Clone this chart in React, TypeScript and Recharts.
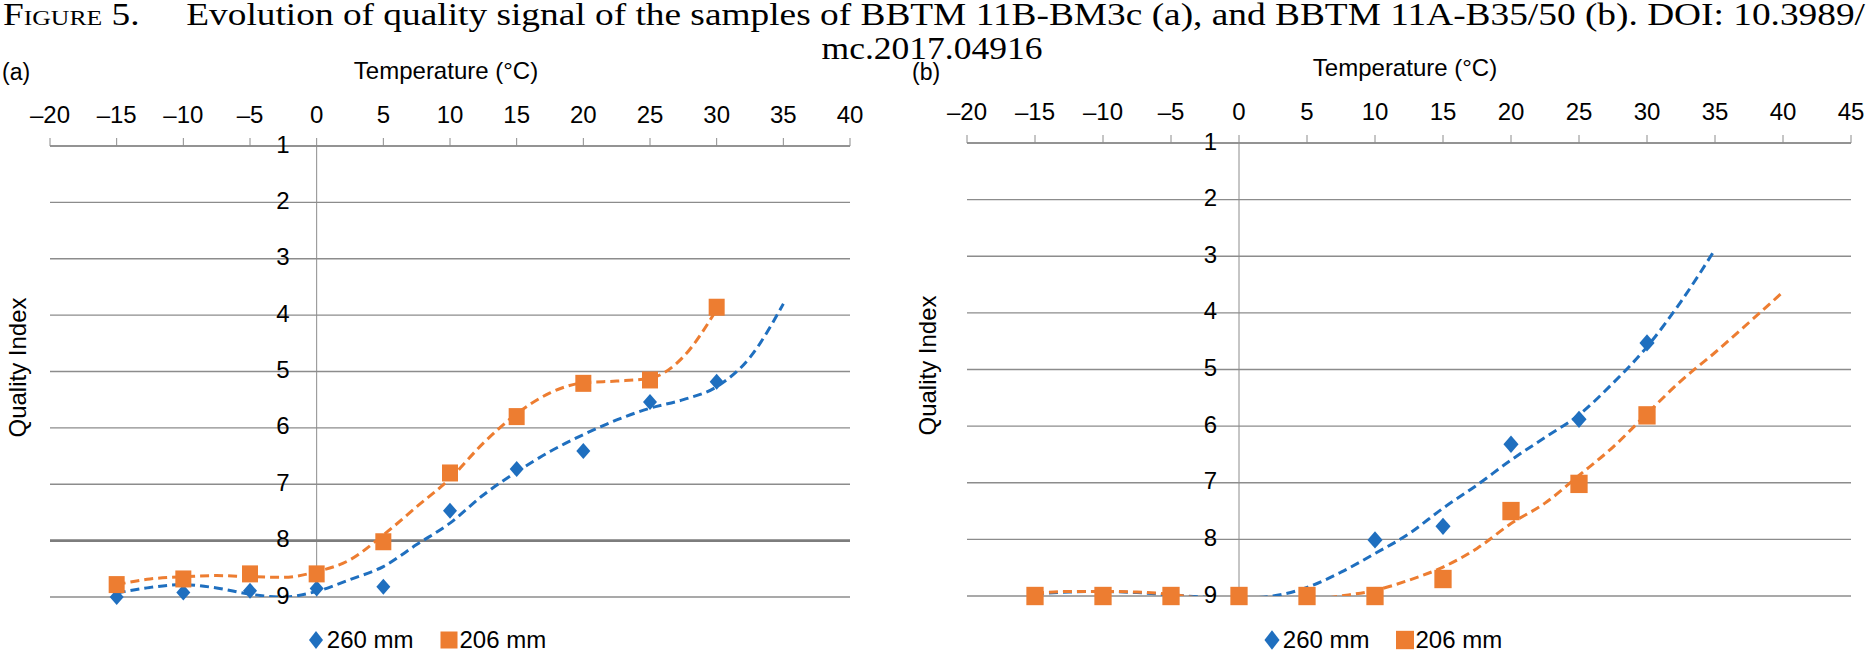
import React from 'react';
import { ComposedChart, XAxis, YAxis, CartesianGrid, Scatter, Line, Legend, ReferenceLine } from 'recharts';

const BLUE = '#1f6fbf';
const ORANGE = '#ed7d31';
const GRID = '#8c8c8c';
const SANS = '"Liberation Sans", Arial, Helvetica, sans-serif';
const SERIF = '"Liberation Serif", "Times New Roman", serif';

// (a) BBTM 11B-BM3c: measured points
const tempsA = [-15, -10, -5, 0, 5, 10, 15, 20, 25, 30];
const qa260 = [9.0, 8.92, 8.89, 8.85, 8.82, 7.47, 6.73, 6.41, 5.54, 5.18];
const qa206 = [8.78, 8.68, 8.59, 8.59, 8.02, 6.8, 5.8, 5.21, 5.15, 3.86];

// (a) trendlines
const trendTempsA260 = [-15, -12.5, -10, -7.5, -5, -2.5, 0, 2.5, 5, 7.5, 10, 12.5, 15, 17.5, 20, 22.5, 25, 27.5, 30, 32.5, 35];
const trendA260 = [8.93, 8.83, 8.78, 8.84, 8.95, 9.0, 8.9, 8.69, 8.46, 8.07, 7.69, 7.19, 6.78, 6.42, 6.12, 5.86, 5.65, 5.5, 5.27, 4.75, 3.8];
const trendTempsA206 = [-15, -12.5, -10, -7.5, -5, -2.5, 0, 2.5, 5, 7.5, 10, 12.5, 15, 17.5, 20, 22.5, 25, 27.5, 30];
const trendA206 = [8.78, 8.68, 8.64, 8.62, 8.64, 8.65, 8.55, 8.34, 7.9, 7.4, 6.9, 6.27, 5.75, 5.38, 5.2, 5.17, 5.12, 4.74, 3.9];

// (b) BBTM 11A-B35/50: measured points
const tempsB = [-15, -10, -5, 0, 5, 10, 15, 20, 25, 30];
const qb260 = [9, 9, 9, 9, 9, 8.01, 7.77, 6.32, 5.88, 4.53];
const qb206 = [9, 9, 9, 9, 9, 9, 8.7, 7.5, 7.02, 5.81];

// (b) trendlines (values past 9 are cut by the plot edge)
const trendTempsB260 = [-15, -12.5, -10, -7.5, -5, -2.5, 0, 2.5, 5, 7.5, 10, 12.5, 15, 17.5, 20, 22.5, 25, 27.5, 30, 32.5, 35];
const trendB260 = [8.96, 8.93, 8.92, 8.94, 8.98, 9.02, 9.04, 9.0, 8.85, 8.58, 8.25, 7.9, 7.45, 7.04, 6.6, 6.2, 5.8, 5.24, 4.6, 3.8, 2.88];
const trendTempsB206 = [-15, -12.5, -10, -7.5, -5, -2.5, 0, 2.5, 5, 7.5, 10, 12.5, 15, 17.5, 20, 22.5, 25, 27.5, 30, 32.5, 35, 37.5, 40];
const trendB206 = [8.95, 8.92, 8.92, 8.93, 8.97, 9.05, 9.1, 9.12, 9.08, 9.0, 8.9, 8.72, 8.49, 8.16, 7.72, 7.36, 6.87, 6.37, 5.78, 5.2, 4.7, 4.17, 3.63];

// axis ticks
const xTicksA = [-20, -15, -10, -5, 0, 5, 10, 15, 20, 25, 30, 35, 40];
const xTicksB = [-20, -15, -10, -5, 0, 5, 10, 15, 20, 25, 30, 35, 40, 45];
const yTicks = [1, 2, 3, 4, 5, 6, 7, 8, 9];
const legendOrder = ['260 mm', '206 mm'];

const toPoints = (xs: number[], ys: number[]) => xs.map((t, i) => ({ t, q: ys[i] }));

const fmtTemp = (v: number) => (v < 0 ? '\u2013' + Math.abs(v) : String(v));

const renderLegend = (k: number, shift: number) => (props: any) => {
  const items = (props.payload || [])
    .filter((e: any) => e.type !== 'none')
    .sort((a: any, b: any) => legendOrder.indexOf(a.value) - legendOrder.indexOf(b.value));
  return (
    <div style={{ display: 'flex', justifyContent: 'center', alignItems: 'center', paddingRight: shift,
      fontFamily: SANS, fontSize: 24, color: '#000' }}>
      {items.map((e: any) => (
        <span key={e.value} style={{ display: 'inline-flex', alignItems: 'center', margin: '0 13px' }}>
          <svg width={18} height={20} style={{ marginRight: 2 }}>
            {e.value === '260 mm'
              ? <path d={`M9,${10 - 9 * k}L${9 + 7 * k},10L9,${10 + 9 * k}L${9 - 7 * k},10Z`} fill={BLUE} />
              : <rect x={9 - 8.5 * k} y={10 - 8.5 * k} width={17 * k} height={17 * k} fill={ORANGE} />}
          </svg>
          {e.value}
        </span>
      ))}
    </div>
  );
};

type PanelProps = {
  left: number;
  width: number;
  margin: { top: number; right: number; bottom: number; left: number };
  xDomain: [number, number];
  xTicks: number[];
  pts260: { t: number; q: number }[];
  pts206: { t: number; q: number }[];
  trend260: { t: number; q: number }[];
  trend206: { t: number; q: number }[];
  labelGap: number;
  qLabelX: number;
  k: number;
  legendShift: number;
  heavyAt?: number;
};

const Panel = (p: PanelProps) => {
  const height = 664;
  const yAxisW = 1;
  const plotLeft = p.margin.left + yAxisW;
  const plotW = p.width - plotLeft - p.margin.right;
  const zeroPx = plotLeft + ((0 - p.xDomain[0]) / (p.xDomain[1] - p.xDomain[0])) * plotW;
  const k = p.k;

  const yTick = (tp: any) => (
    <text x={zeroPx - p.labelGap} y={tp.y - 2} textAnchor="end" dominantBaseline="central"
      fontFamily={SANS} fontSize={24} fill="#000">
      {tp.payload.value}
    </text>
  );

  const diamond = (s: any) => (
    <path d={`M${s.cx},${s.cy - 8 * k}L${s.cx + 7 * k},${s.cy}L${s.cx},${s.cy + 8 * k}L${s.cx - 7 * k},${s.cy}Z`} fill={BLUE} />
  );
  const square = (s: any) => (
    <rect x={s.cx - 8 * k} y={s.cy - 8.5 * k} width={16 * k} height={17 * k} fill={ORANGE} />
  );

  return (
    <div style={{ position: 'absolute', left: p.left, top: 0 }}>
      <ComposedChart width={p.width} height={height} margin={p.margin}>
        <CartesianGrid yAxisId="q" vertical={false} stroke={GRID} strokeWidth={1.3} />
        <XAxis type="number" dataKey="t" orientation="top" domain={p.xDomain} ticks={p.xTicks} interval={0}
          height={40} tickFormatter={fmtTemp} tick={{ fill: '#000', fontSize: 24, fontFamily: SANS }}
          tickSize={8} tickMargin={15} axisLine={{ stroke: GRID, strokeWidth: 1.5 }} tickLine={{ stroke: GRID, strokeWidth: 1 }}
          label={{
            content: (lp: any) => {
              const vb = lp.viewBox;
              return (
                <text x={vb.x + vb.width / 2 - 4} y={vb.y - 27} textAnchor="middle" fontFamily={SANS} fontSize={24} fill="#000">
                  Temperature (°C)
                </text>
              );
            },
          }} />
        <YAxis yAxisId="q" type="number" dataKey="q" reversed domain={[1, 9]} ticks={yTicks} interval={0}
          width={yAxisW} axisLine={false} tickLine={false} tick={yTick}
          label={{
            content: (lp: any) => {
              const vb = lp.viewBox;
              const cy = vb.y + vb.height / 2 - 4;
              return (
                <text x={p.qLabelX} y={cy} transform={`rotate(-90, ${p.qLabelX}, ${cy})`} textAnchor="middle"
                  dominantBaseline="central" fontFamily={SANS} fontSize={24} fill="#000">
                  Quality Index
                </text>
              );
            },
          }} />
        <YAxis yAxisId="trend" type="number" dataKey="q" reversed domain={[1, 9]} allowDataOverflow hide />
        <ReferenceLine yAxisId="q" x={0} stroke={GRID} strokeWidth={1} />
        {p.heavyAt !== undefined && <ReferenceLine yAxisId="q" y={p.heavyAt} stroke="#7d7d7d" strokeWidth={2.8} />}
        <Scatter yAxisId="q" name="260 mm" data={p.pts260} fill={BLUE} shape={diamond} legendType="diamond" isAnimationActive={false} />
        <Scatter yAxisId="q" name="206 mm" data={p.pts206} fill={ORANGE} shape={square} legendType="square" isAnimationActive={false} />
        <Line yAxisId="trend" data={p.trend260} dataKey="q" type="monotone" stroke={BLUE} strokeWidth={3}
          strokeDasharray="9 5" dot={false} activeDot={false} legendType="none" isAnimationActive={false} />
        <Line yAxisId="trend" data={p.trend206} dataKey="q" type="monotone" stroke={ORANGE} strokeWidth={3}
          strokeDasharray="9 5" dot={false} activeDot={false} legendType="none" isAnimationActive={false} />
        <Legend verticalAlign="middle" align="center" layout="horizontal" wrapperStyle={{ top: 626 }}
          content={renderLegend(k, p.legendShift)} />
      </ComposedChart>
    </div>
  );
};

export default function App() {
  return (
    <div style={{ position: 'absolute', left: 0, top: 0, width: 1872, height: 664, background: '#fff', overflow: 'hidden' }}>
      <svg width={1872} height={100} style={{ position: 'absolute', left: 0, top: 0 }}>
        <text x={3} y={25} fontFamily={SERIF} fontSize={32} fill="#000" textLength={1862} lengthAdjust="spacingAndGlyphs">
          <tspan style={{ fontVariant: 'small-caps' }}>Figure 5.</tspan>
          <tspan>{'\u00a0\u00a0\u00a0\u00a0\u00a0Evolution of quality signal of the samples of BBTM 11B-BM3c (a), and BBTM 11A-B35/50 (b). DOI: 10.3989/'}</tspan>
        </text>
        <text x={932} y={59} textAnchor="middle" fontFamily={SERIF} fontSize={32} fill="#000" textLength={221} lengthAdjust="spacingAndGlyphs">
          mc.2017.04916
        </text>
        <text x={2} y={80} fontFamily={SANS} fontSize={23} fill="#000">(a)</text>
        <text x={912} y={80} fontFamily={SANS} fontSize={23} fill="#000">(b)</text>
      </svg>
      <Panel
        left={0}
        width={880}
        margin={{ top: 106, right: 30, bottom: 67, left: 49 }}
        xDomain={[-20, 40]}
        xTicks={xTicksA}
        pts260={toPoints(tempsA, qa260)}
        pts206={toPoints(tempsA, qa206)}
        trend260={toPoints(trendTempsA260, trendA260)}
        trend206={toPoints(trendTempsA206, trendA206)}
        labelGap={27}
        qLabelX={17}
        k={1}
        legendShift={46}
        heavyAt={8}
      />
      <Panel
        left={900}
        width={972}
        margin={{ top: 103, right: 21, bottom: 68, left: 66 }}
        xDomain={[-20, 45]}
        xTicks={xTicksB}
        pts260={toPoints(tempsB, qb260)}
        pts206={toPoints(tempsB, qb206)}
        trend260={toPoints(trendTempsB260, trendB260)}
        trend206={toPoints(trendTempsB206, trendB206)}
        labelGap={22}
        qLabelX={27}
        k={1.08}
        legendShift={52}
      />
    </div>
  );
}
